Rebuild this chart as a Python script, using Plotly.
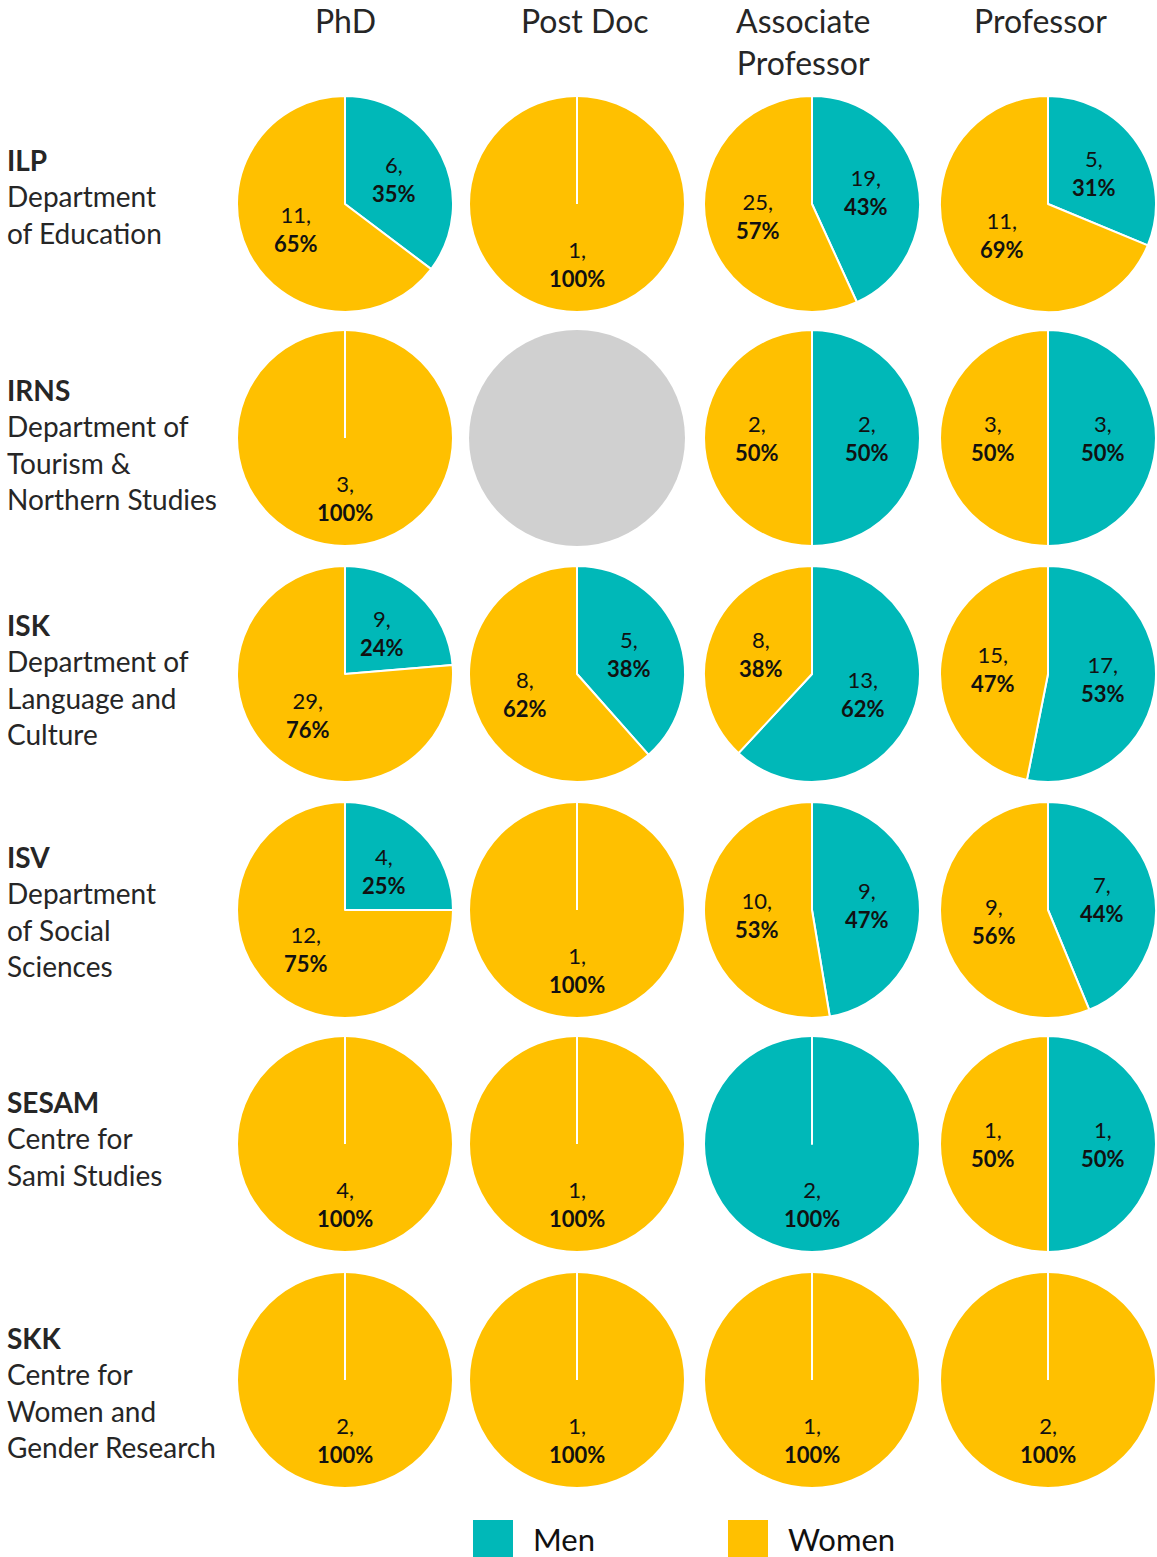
import plotly.graph_objects as go
import math

# ---------------- data ----------------
positions = ["PhD", "Post Doc", "Associate<br>Professor", "Professor"]
dept_codes = ["ILP", "IRNS", "ISK", "ISV", "SESAM", "SKK"]
dept_names = [
    ["Department", "of Education"],
    ["Department of", "Tourism &", "Northern Studies"],
    ["Department of", "Language and", "Culture"],
    ["Department", "of Social", "Sciences"],
    ["Centre for", "Sami Studies"],
    ["Centre for", "Women and", "Gender Research"],
]
# rows = departments, columns = positions; None = no data
men = [
    [6, 0, 19, 5],
    [0, None, 2, 3],
    [9, 5, 13, 17],
    [4, 0, 9, 7],
    [0, 0, 2, 1],
    [0, 0, 0, 0],
]
women = [
    [11, 1, 25, 11],
    [3, None, 2, 3],
    [29, 8, 8, 15],
    [12, 1, 10, 9],
    [4, 1, 0, 1],
    [2, 1, 1, 2],
]
series = ["Men", "Women"]

# ---------------- style / layout ----------------
W, H = 1157, 1557
COL_X = [345, 577, 812, 1048]
ROW_Y = [204, 438, 674, 910, 1144, 1380]
LABEL_TOP = [141, 371, 606, 838, 1083, 1319]
HEAD_X = [345, 585, 803, 1040]
R = 108
MEN_C = "#00B8B8"
WOMEN_C = "#FFC000"
NODATA_C = "#D0D0D0"
FONT = "Lato"
TXT = "#262626"

def px(x):
    return x / W

def py(y):
    return 1 - y / H

fig = go.Figure()
annotations = []
shapes = []

for i, code in enumerate(dept_codes):
    for j, pos in enumerate(positions):
        cx, cy = COL_X[j], ROW_Y[i]
        dom = dict(x=[px(cx - R), px(cx + R)], y=[py(cy + R), py(cy - R)])
        m, w = men[i][j], women[i][j]
        if m is None:
            fig.add_trace(go.Pie(
                values=[1], labels=["No data"], domain=dom, sort=False,
                direction="clockwise", marker=dict(colors=[NODATA_C],
                line=dict(color="white", width=0)), textinfo="none",
                hoverinfo="skip", showlegend=False))
            continue
        fig.add_trace(go.Pie(
            values=[m, w], labels=series, domain=dom, sort=False,
            direction="clockwise", rotation=0,
            marker=dict(colors=[MEN_C, WOMEN_C], line=dict(color="white", width=2)),
            textinfo="none", showlegend=False,
            hovertemplate="%{label}: %{value} (%{percent})<extra></extra>"))
        total = m + w
        start = 0.0
        for v in (m, w):
            if v == 0:
                continue
            frac = v / total
            mid = (start + frac / 2) * 2 * math.pi
            start += frac
            k = 0.56 if frac == 1 else 0.51
            lx = cx + k * R * math.sin(mid)
            ly = cy - k * R * math.cos(mid)
            pct = round(100 * frac)
            annotations.append(dict(
                x=px(lx), y=py(ly), xref="paper", yref="paper",
                text=f"{v},<br><b>{pct}%</b>", showarrow=False,
                xanchor="center", yanchor="middle", align="center",
                font=dict(family=FONT, size=22, color="#111111")))
            if frac == 1:
                shapes.append(dict(type="line", xref="paper", yref="paper",
                                   x0=px(cx), y0=py(cy), x1=px(cx), y1=py(cy - R),
                                   line=dict(color="white", width=2)))

# column headers
for j, pos in enumerate(positions):
    annotations.append(dict(
        x=px(HEAD_X[j]), y=py(-1), xref="paper", yref="paper", text=pos,
        showarrow=False, xanchor="center", yanchor="top", align="center",
        font=dict(family=FONT, size=32, color=TXT)))

# row labels
for i, code in enumerate(dept_codes):
    text = f"<b>{code}</b><br>" + "<br>".join(dept_names[i])
    annotations.append(dict(
        x=px(5), y=py(LABEL_TOP[i]), xref="paper", yref="paper", text=text,
        showarrow=False, xanchor="left", yanchor="top", align="left",
        font=dict(family=FONT, size=28, color=TXT)))

# legend (manual, large swatches)
leg = [("Men", MEN_C, 473), ("Women", WOMEN_C, 728)]
for name, col, x0 in leg:
    shapes.append(dict(type="rect", xref="paper", yref="paper",
                       x0=px(x0), x1=px(x0 + 40), y0=py(1557), y1=py(1520),
                       fillcolor=col, line=dict(width=0)))
    annotations.append(dict(
        x=px(x0 + 58), y=py(1539), xref="paper", yref="paper", text=name,
        showarrow=False, xanchor="left", yanchor="middle",
        font=dict(family=FONT, size=31, color="#111111")))

fig.update_layout(
    width=W, height=H, margin=dict(l=0, r=0, t=0, b=0),
    paper_bgcolor="white", plot_bgcolor="white",
    annotations=annotations, shapes=shapes, showlegend=False,
)
fig.write_html(
    "out.html",
    config={"displayModeBar": False},
    post_script="document.body.style.margin='0';document.body.style.overflow='hidden';",
)
